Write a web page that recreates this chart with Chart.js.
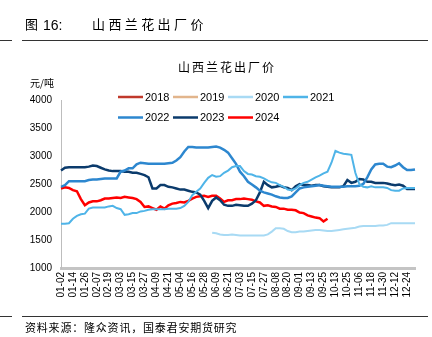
<!DOCTYPE html>
<html>
<head>
<meta charset="utf-8">
<script src="https://cdn.jsdelivr.net/npm/chart.js@4.4.1/dist/chart.umd.min.js"></script>
<style>
  html, body { margin: 0; padding: 0; background: #fff; }
  #wrap { position: relative; width: 432px; height: 337px; overflow: hidden; }
  #chart { position: absolute; left: 0; top: 0; }
  .txt { position: absolute; white-space: nowrap; color: #000; line-height: 1; }
  .cjk { font-family: "Noto Sans CJK SC", sans-serif; }
  .lat { font-family: "Liberation Sans", Arial, sans-serif; }
  .rule { position: absolute; height: 1px; background: #333; }
</style>
</head>
<body>
<div id="wrap">
  <canvas id="chart" width="432" height="337"></canvas>

  <span class="txt cjk" style="left:25px; top:17px; font-size:13px;">图</span>
  <span class="txt lat" style="left:43px; top:18px; font-size:14px;">16:</span>
  <span class="txt cjk" style="left:92px; top:17px; font-size:13px; letter-spacing:3.4px;">山西兰花出厂价</span>
  <div class="rule" style="left:0; top:40px; width:12px;"></div>
  <div class="rule" style="left:22px; top:40px; width:406px;"></div>

  <span class="txt cjk" style="left:178px; top:61px; font-size:12px; letter-spacing:2px;">山西兰花出厂价</span>
  <span class="txt cjk" style="left:30px; top:78px; font-size:10px;">元/吨</span>

  <div class="rule" style="left:0; top:316px; width:12px;"></div>
  <div class="rule" style="left:22px; top:316px; width:406px;"></div>
  <span class="txt cjk" style="left:25px; top:322px; font-size:11px; letter-spacing:0.8px;">资料来源：隆众资讯，国泰君安期货研究</span>
</div>

<script>
// date labels shown under the axis, one every third point
const tickLabels = ['01-02', '01-14', '01-26', '02-07', '02-19', '03-03', '03-15', '03-27', '04-09', '04-21',
  '05-04', '05-16', '05-28', '06-09', '06-21', '07-03', '07-15', '07-27', '08-08', '08-20',
  '09-01', '09-13', '09-25', '10-13', '10-25', '11-06', '11-18', '11-30', '12-12', '12-24'];
const pointsPerTick = 3;
const pointCount = 90;

// 元/吨
const price2018 = [];
const price2019 = [];
const price2020 = [
  null, null, null, null, null, null, null, null, null, null,
  null, null, null, null, null, null, null, null, null, null,
  null, null, null, null, null, null, null, null, null, null,
  null, null, null, null, null, null, null, null, 1630, 1620,
  1600, 1590, 1590, 1600, 1590, 1580, 1580, 1580, 1580, 1580,
  1580, 1580, 1600, 1650, 1710, 1710, 1700, 1660, 1640, 1640,
  1650, 1650, 1660, 1670, 1680, 1680, 1670, 1660, 1660, 1670,
  1680, 1690, 1700, 1710, 1720, 1740, 1750, 1750, 1750, 1750,
  1760, 1760, 1770, 1800, 1800, 1800, 1800, 1800, 1800, 1800
];
const price2021 = [
  1790, 1790, 1800, 1880, 1930, 1960, 1970, 2060, 2080, 2080,
  2080, 2080, 2100, 2110, 2070, 2050, 1950, 1960, 1980, 1980,
  2010, 2020, 2040, 2050, 2050, 2050, 2050, 2060, 2060, 2060,
  2070, 2110, 2180, 2300, 2360, 2420, 2520, 2610, 2660, 2630,
  2640, 2700, 2740, 2800, 2820, 2820, 2730, 2680, 2670, 2640,
  2630, 2600, 2560, 2530, 2520, 2480, 2450, 2400, 2390, 2420,
  2480, 2520, 2540, 2580, 2620, 2650, 2690, 2720, 2880, 3090,
  3060, 3040, 3030, 3020, 2700, 2500, 2450, 2440, 2460, 2440,
  2440, 2440, 2430, 2390, 2380, 2380, 2420, 2430, 2430, 2430
];
const price2022 = [
  2450, 2480, 2550, 2550, 2550, 2550, 2550, 2570, 2580, 2580,
  2590, 2600, 2600, 2600, 2600, 2720, 2740, 2780, 2780, 2850,
  2880, 2870, 2860, 2860, 2860, 2860, 2860, 2870, 2880, 2920,
  2980, 3080, 3160, 3160, 3150, 3150, 3150, 3150, 3160, 3170,
  3150, 3110, 3060, 2960, 2860, 2720, 2640, 2540, 2490, 2440,
  2380, 2350, 2330, 2310, 2280, 2260, 2250, 2250, 2280, 2350,
  2420, 2440, 2450, 2460, 2470, 2480, 2470, 2460, 2450, 2450,
  2450, 2450, 2460, 2460, 2460, 2470, 2500, 2620, 2760, 2850,
  2860, 2860, 2810, 2800, 2830, 2870, 2800, 2750, 2750, 2760
];
const price2023 = [
  2740, 2790, 2800, 2800, 2800, 2800, 2800, 2810, 2830, 2820,
  2790, 2760, 2740, 2730, 2730, 2730, 2720, 2720, 2700, 2700,
  2680, 2660, 2620, 2420, 2420, 2480, 2480, 2450, 2440, 2420,
  2400, 2400, 2380, 2360, 2350, 2310, 2200, 2070, 2200, 2260,
  2210, 2130, 2110, 2110, 2130, 2120, 2110, 2110, 2150, 2210,
  2350, 2540, 2480, 2440, 2450, 2470, 2440, 2430, 2390, 2460,
  2500, 2480, 2480, 2470, 2480, 2480, 2460, 2450, 2440, 2440,
  2440, 2460, 2570, 2520, 2540, 2590, 2580, 2540, 2540, 2520,
  2520, 2520, 2510, 2490, 2480, 2490, 2470, 2410, 2410, 2410
];
const price2024 = [
  2420, 2440, 2430, 2390, 2370, 2230, 2120, 2170, 2190, 2190,
  2210, 2240, 2240, 2250, 2260, 2250, 2270, 2260, 2250, 2230,
  2180, 2090, 2100, 2070, 2040, 2100, 2060, 2120, 2150, 2160,
  2180, 2170, 2200, 2240, 2270, 2280, 2290, 2270, 2290, 2290,
  2240, 2180, 2210, 2210, 2230, 2230, 2240, 2230, 2220, 2190,
  2170, 2110, 2120, 2100, 2090, 2060, 2060, 2040, 2040, 2030,
  1990, 1980, 1940, 1920, 1900, 1890, 1830, 1880
];

const categories = [];
for (let i = 0; i < pointCount; i++) {
  categories.push(i % pointsPerTick === 0 ? (tickLabels[i / pointsPerTick] || '') : '');
}

const latinFont = '"Liberation Sans", Arial, sans-serif';

function series(label, data, color, width) {
  return {
    label: label,
    data: data,
    borderColor: color,
    backgroundColor: color,
    borderWidth: width,
    pointRadius: 0,
    pointHoverRadius: 0,
    tension: 0,
    fill: false,
    spanGaps: false
  };
}

// two-row legend sitting over the top of the plot
const rowLegend = {
  id: 'rowLegend',
  afterDraw(chart) {
    const ctx = chart.ctx;
    ctx.save();
    ctx.font = '11px ' + latinFont;
    ctx.textBaseline = 'middle';
    ctx.textAlign = 'left';
    chart.data.datasets.forEach((ds, i) => {
      const row = i < 4 ? 0 : 1;
      const col = i < 4 ? i : i - 4;
      const x = 118 + col * 55;
      const y = 97 + row * 20.5;
      ctx.strokeStyle = ds.borderColor;
      ctx.lineWidth = 2.5;
      ctx.beginPath();
      ctx.moveTo(x, y);
      ctx.lineTo(x + 25, y);
      ctx.stroke();
      ctx.fillStyle = '#000';
      ctx.fillText(ds.label, x + 27, y + 0.5);
    });
    ctx.restore();
  }
};

const ctx = document.getElementById('chart').getContext('2d');
const priceChart = new Chart(ctx, {
  type: 'line',
  data: {
    labels: categories,
    datasets: [
      series('2018', price2018, '#C0392B', 2),
      series('2019', price2019, '#E2B58C', 2),
      series('2020', price2020, '#A8DAF4', 2),
      series('2021', price2021, '#4FB4E8', 2),
      series('2022', price2022, '#2D87CF', 2.5),
      series('2023', price2023, '#0B3B6C', 2.5),
      series('2024', price2024, '#FF0000', 2.5)
    ]
  },
  options: {
    responsive: false,
    animation: false,
    events: [],
    layout: {
      padding: { top: 100, right: 17, bottom: 0, left: 0 }
    },
    scales: {
      x: {
        type: 'category',
        offset: false,
        grid: { display: false, drawTicks: false },
        border: { display: true, color: '#C4C4C4', width: 3 },
        ticks: {
          autoSkip: false,
          maxRotation: 90,
          minRotation: 90,
          padding: 4,
          color: '#000',
          font: { family: latinFont, size: 10 },
          callback: function (value, index) {
            return categories[index] || null;
          }
        },
        afterFit: function (scale) {
          scale.height = 69;
        }
      },
      y: {
        min: 1000,
        max: 4000,
        grid: { display: false, drawTicks: false },
        border: { display: true, color: '#BDBDBD', width: 1 },
        ticks: {
          stepSize: 500,
          padding: 9,
          color: '#000',
          font: { family: latinFont, size: 10 },
          callback: function (value) {
            return String(value);
          }
        },
        afterFit: function (scale) {
          scale.width = 61;
        }
      }
    },
    plugins: {
      legend: { display: false },
      title: { display: false },
      tooltip: { enabled: false }
    }
  },
  plugins: [rowLegend]
});
</script>
</body>
</html>
